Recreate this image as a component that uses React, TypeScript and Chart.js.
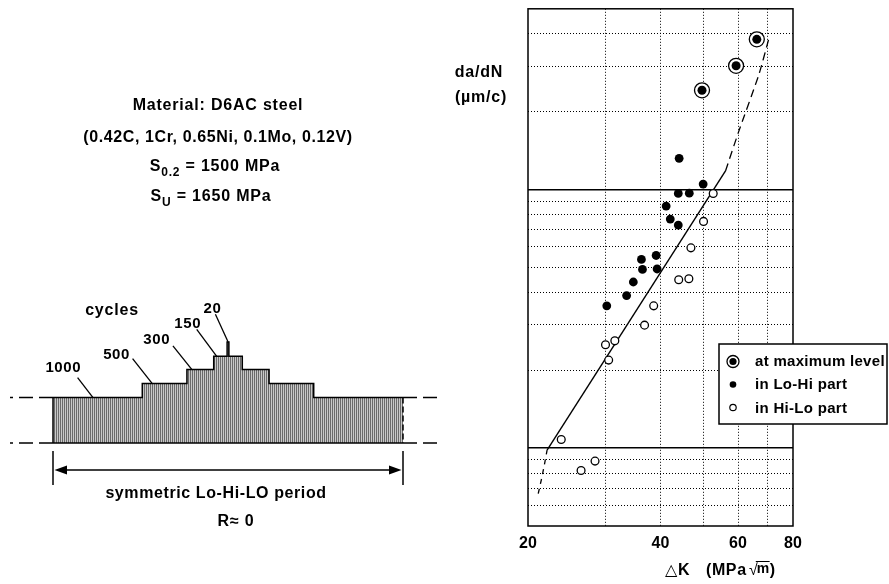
import React, { useEffect, useRef } from 'react';
import { Chart, registerables } from 'chart.js';

Chart.register(...registerables);

// ---------------- crack growth data (ΔK in MPa√m, da/dN in µm/cycle) ----------------
const maxLevelDK = [49.7, 59.4, 66.2];
const maxLevelRate = [0.242, 0.301, 0.381];

const loHiDK = [30.2, 33.5, 34.7, 36.2, 36.4, 39.1, 39.3, 41.2, 42.1, 43.9, 43.9, 44.1, 46.5, 50.0];
const loHiRate = [0.0355, 0.0389, 0.0439, 0.0537, 0.0491, 0.0556, 0.0493, 0.0863, 0.0769, 0.0729, 0.0966, 0.132, 0.0968, 0.105];

const hiLoDK = [23.8, 26.4, 28.4, 30.0, 30.5, 31.5, 36.8, 38.6, 44.0, 46.4, 46.9, 50.1, 52.7];
const hiLoRate = [0.0108, 0.0082, 0.00891, 0.0251, 0.0219, 0.026, 0.0299, 0.0355, 0.0448, 0.0452, 0.0595, 0.0753, 0.0966];

const fitDK = [22.1, 56.2];
const fitRate = [0.00982, 0.118];
const lowerDashDK = [21.1, 21.5, 21.8, 22.1];
const lowerDashRate = [0.00667, 0.00769, 0.00866, 0.00982];
const upperDashDK = [56.2, 60.1, 66.9, 70.7];
const upperDashRate = [0.118, 0.166, 0.278, 0.39];

// axes
const xMin = 20;
const xMax = 80;
const xGridValues = [20, 30, 40, 50, 60, 70, 80];
const xTickLabels = [20, 40, 60, 80];
const yMin = 0.005;
const yMax = 0.5;
const yGridValues = [0.005, 0.006, 0.007, 0.008, 0.009, 0.01, 0.02, 0.03, 0.04, 0.05, 0.06, 0.07, 0.08, 0.09, 0.1, 0.2, 0.3, 0.4, 0.5];
const yMajorValues = [0.01, 0.1];

const legendLabels = ['at maximum level', 'in Lo-Hi part', 'in Hi-Lo part'];

// ---------------- load spectrum (Lo-Hi-Lo block) ----------------
const blockCycles = [1000, 500, 300, 150, 20, 150, 300, 500, 1000];
const blockLevels = [4.54, 5.94, 7.34, 8.67, 10.1, 8.67, 7.34, 5.94, 4.54];
const cycleLabels = ['1000', '500', '300', '150', '20'];

const materialLines = ['Material: D6AC steel', '(0.42C, 1Cr, 0.65Ni, 0.1Mo, 0.12V)'];

const FONT = "'Liberation Sans', Arial, 'DejaVu Sans', sans-serif";

type Run = { t: string; size: number; dy?: number; weight?: string; font?: string };

function setFont(ctx: CanvasRenderingContext2D, size: number, weight = 'bold', spacing = 0.8, family = FONT) {
  ctx.font = `${weight} ${size}px ${family}`;
  (ctx as any).letterSpacing = `${spacing}px`;
}

function drawRuns(ctx: CanvasRenderingContext2D, runs: Run[], cx: number, y: number, spacing = 0.8) {
  let total = 0;
  const widths = runs.map((r) => {
    setFont(ctx, r.size, r.weight || 'bold', spacing, r.font || FONT);
    const w = ctx.measureText(r.t).width;
    total += w;
    return w;
  });
  let x = cx - total / 2;
  runs.forEach((r, i) => {
    setFont(ctx, r.size, r.weight || 'bold', spacing, r.font || FONT);
    ctx.fillText(r.t, x, y + (r.dy || 0));
    x += widths[i];
  });
}

function text(ctx: CanvasRenderingContext2D, s: string, x: number, y: number, size = 16, align: CanvasTextAlign = 'center', spacing = 0.8) {
  setFont(ctx, size, 'bold', spacing);
  ctx.textAlign = align;
  ctx.fillText(s, x, y);
}

function seg(ctx: CanvasRenderingContext2D, x1: number, y1: number, x2: number, y2: number) {
  ctx.beginPath();
  ctx.moveTo(x1, y1);
  ctx.lineTo(x2, y2);
  ctx.stroke();
}

const near = (a: number, b: number) => Math.abs(a - b) <= Math.abs(b) * 1e-6;
const isMajorY = (v: number) => yMajorValues.some((m) => near(v, m));

export default function App() {
  const leftRef = useRef<HTMLCanvasElement>(null);
  const rightRef = useRef<HTMLCanvasElement>(null);

  useEffect(() => {
    // ---------- left: load spectrum ----------
    const pat = document.createElement('canvas');
    pat.width = 2;
    pat.height = 2;
    const pctx = pat.getContext('2d')!;
    pctx.fillStyle = '#c8c8c8';
    pctx.fillRect(0, 0, 2, 2);
    pctx.fillStyle = '#6a6a6a';
    pctx.fillRect(0, 0, 1, 2);
    const hatch = leftRef.current!.getContext('2d')!.createPattern(pat, 'repeat');

    let acc = 0;
    const starts: number[] = [];
    const stepPts = blockCycles.map((c, i) => {
      starts.push(acc);
      const p = { x: acc, y: blockLevels[i] };
      acc += c;
      return p;
    });
    const totalCycles = acc;
    stepPts.push({ x: totalCycles, y: blockLevels[blockLevels.length - 1] });

    const endDx = [40, 10, 5, 3, 1];
    const leaderVec = [[-15.4, -20], [-19.7, -25], [-19, -23.7], [-20, -27], [-12.7, -27.7]];
    const labelOff = [[-29.7, -26], [-35.7, -25], [-35.2, -26], [-29, -28.6], [-15.7, -29.5]];

    const leftPlugin = {
      id: 'spectrumDecor',
      afterDraw(chart: any) {
        const ctx: CanvasRenderingContext2D = chart.ctx;
        const xs = chart.scales.x;
        const ys = chart.scales.y;
        const xL = xs.getPixelForValue(0);
        const xR = xs.getPixelForValue(totalCycles);
        const yB = ys.getPixelForValue(0);
        const y0 = ys.getPixelForValue(blockLevels[0]);
        ctx.save();
        ctx.strokeStyle = '#000';
        ctx.fillStyle = '#000';
        ctx.lineWidth = 1.5;
        seg(ctx, xL, yB, xL, y0);
        seg(ctx, xL, yB, xR, yB);
        ctx.setLineDash([6, 3]);
        seg(ctx, xR, y0, xR, yB);
        ctx.setLineDash([14, 6]);
        seg(ctx, xL, y0, 10, y0);
        seg(ctx, xL, yB, 10, yB);
        seg(ctx, xR, y0, 437, y0);
        seg(ctx, xR, yB, 437, yB);
        ctx.setLineDash([]);

        // leaders and cycle labels
        ctx.lineWidth = 1.3;
        ctx.textBaseline = 'alphabetic';
        cycleLabels.forEach((lab, i) => {
          const ex = xs.getPixelForValue(starts[i]) + endDx[i];
          const ey = ys.getPixelForValue(blockLevels[i]);
          seg(ctx, ex, ey, ex + leaderVec[i][0], ey + leaderVec[i][1]);
          text(ctx, lab, ex + labelOff[i][0], ey + labelOff[i][1], 15, 'center', 0.6);
        });
        text(ctx, 'cycles', 112, 315, 16, 'center', 0.8);

        // period dimension
        const ay = 470;
        ctx.lineWidth = 1.5;
        seg(ctx, xL, 451, xL, 485);
        seg(ctx, xR, 451, xR, 485);
        seg(ctx, xL + 8, ay, xR - 8, ay);
        ctx.beginPath();
        ctx.moveTo(xL + 1.5, ay);
        ctx.lineTo(xL + 14, ay - 4.5);
        ctx.lineTo(xL + 14, ay + 4.5);
        ctx.closePath();
        ctx.fill();
        ctx.beginPath();
        ctx.moveTo(xR - 1.5, ay);
        ctx.lineTo(xR - 14, ay - 4.5);
        ctx.lineTo(xR - 14, ay + 4.5);
        ctx.closePath();
        ctx.fill();
        text(ctx, 'symmetric Lo-Hi-LO period', (xL + xR) / 2 - 12, 498, 16, 'center', 0.6);
        text(ctx, 'R\u2248 0', 236, 526, 16, 'center', 0.8);

        // material description
        text(ctx, materialLines[0], 218, 110, 16, 'center', 0.8);
        text(ctx, materialLines[1], 218, 141.5, 16, 'center', 0.6);
        ctx.textAlign = 'left';
        drawRuns(ctx, [{ t: 'S', size: 16 }, { t: '0.2', size: 12, dy: 4.5 }, { t: ' = 1500 MPa', size: 16 }], 215, 171);
        drawRuns(ctx, [{ t: 'S', size: 16 }, { t: 'U', size: 12, dy: 4.5 }, { t: ' = 1650 MPa', size: 16 }], 211, 201);
        ctx.restore();
      },
    };

    const left = new Chart(leftRef.current!, {
      type: 'line',
      data: {
        datasets: [
          {
            data: stepPts,
            stepped: true,
            fill: 'origin',
            backgroundColor: hatch as any,
            borderColor: '#000',
            borderWidth: 1.5,
            pointRadius: 0,
          },
        ],
      },
      options: {
        responsive: false,
        animation: false,
        events: [],
        layout: { padding: { left: 53, right: 486, top: 323, bottom: 141 } },
        plugins: { legend: { display: false }, tooltip: { enabled: false } },
        scales: {
          x: { type: 'linear', min: 0, max: totalCycles, display: false },
          y: { type: 'linear', min: 0, max: 12, display: false },
        },
      },
      plugins: [leftPlugin],
    } as any);

    // ---------- right: da/dN vs ΔK ----------
    const pts = (xs: number[], ys: number[]) => xs.map((x, i) => ({ x, y: ys[i] }));

    const rightPlugin = {
      id: 'frameLegend',
      beforeDatasetsDraw(chart: any) {
        const { ctx, chartArea: a } = chart;
        ctx.save();
        ctx.strokeStyle = '#000';
        ctx.lineWidth = 1.5;
        ctx.strokeRect(a.left, a.top, a.right - a.left, a.bottom - a.top);
        ctx.restore();
      },
      afterDraw(chart: any) {
        const ctx: CanvasRenderingContext2D = chart.ctx;
        ctx.save();
        ctx.fillStyle = '#000';
        ctx.strokeStyle = '#000';
        ctx.textBaseline = 'alphabetic';
        // y title
        text(ctx, 'da/dN', 479, 77, 16, 'center', 0.8);
        text(ctx, '(\u00b5m/c)', 481, 102, 16, 'center', 0.8);
        // x title
        setFont(ctx, 16, 'bold', 0.6);
        ctx.textAlign = 'left';
        ctx.fillText('\u25b3K', 665, 575);
        ctx.fillText('(MPa', 706, 575);
        setFont(ctx, 16, 'normal', 0);
        ctx.fillText('\u221a', 749, 575);
        const sw = ctx.measureText('\u221a').width;
        setFont(ctx, 14, 'bold', 0.4);
        const mx = 749 + sw - 1;
        ctx.fillText('m', mx, 573);
        const mw = ctx.measureText('m').width;
        setFont(ctx, 16, 'bold', 0.4);
        ctx.fillText(')', mx + mw, 575);
        ctx.lineWidth = 1;
        seg(ctx, 749 + sw - 2, 561.5, mx + mw, 561.5);

        // legend
        const lx = 719, ly = 344, lw = 168, lh = 80;
        ctx.fillStyle = '#fff';
        ctx.fillRect(lx, ly, lw, lh);
        ctx.lineWidth = 1.5;
        ctx.strokeRect(lx, ly, lw, lh);
        const sx = 733;
        const rows = [361.5, 384.5, 407.5];
        // max-level symbol
        ctx.lineWidth = 1.3;
        ctx.beginPath();
        ctx.arc(sx, rows[0], 6, 0, Math.PI * 2);
        ctx.stroke();
        ctx.fillStyle = '#000';
        ctx.beginPath();
        ctx.arc(sx, rows[0], 3.6, 0, Math.PI * 2);
        ctx.fill();
        ctx.beginPath();
        ctx.arc(sx, rows[1], 3.3, 0, Math.PI * 2);
        ctx.fill();
        ctx.lineWidth = 1.2;
        ctx.beginPath();
        ctx.arc(sx, rows[2], 3.2, 0, Math.PI * 2);
        ctx.stroke();
        const bases = [365.5, 389, 413];
        legendLabels.forEach((l, i) => text(ctx, l, 755, bases[i], 15, 'left', 0.3));
        ctx.restore();
      },
    };

    const right = new Chart(rightRef.current!, {
      type: 'line',
      data: {
        datasets: [
          {
            label: legendLabels[0] + ' (core)',
            data: pts(maxLevelDK, maxLevelRate),
            showLine: false,
            pointRadius: 4.5,
            pointBackgroundColor: '#000',
            pointBorderWidth: 0,
          },
          {
            label: legendLabels[0],
            data: pts(maxLevelDK, maxLevelRate),
            showLine: false,
            pointRadius: 7.5,
            pointBackgroundColor: '#fff',
            pointBorderColor: '#000',
            pointBorderWidth: 1.3,
          },
          {
            label: legendLabels[1],
            data: pts(loHiDK, loHiRate),
            showLine: false,
            pointRadius: 4.4,
            pointBackgroundColor: '#000',
            pointBorderWidth: 0,
          },
          {
            label: legendLabels[2],
            data: pts(hiLoDK, hiLoRate),
            showLine: false,
            pointRadius: 3.9,
            pointBackgroundColor: '#fff',
            pointBorderColor: '#000',
            pointBorderWidth: 1.3,
          },
          {
            label: 'fit',
            data: pts(fitDK, fitRate),
            borderColor: '#000',
            borderWidth: 1.4,
            pointRadius: 0,
          },
          {
            label: 'lower',
            data: pts(lowerDashDK, lowerDashRate),
            borderColor: '#000',
            borderWidth: 1.3,
            borderDash: [5, 5],
            pointRadius: 0,
          },
          {
            label: 'upper',
            data: pts(upperDashDK, upperDashRate),
            borderColor: '#000',
            borderWidth: 1.3,
            borderDash: [8, 5],
            pointRadius: 0,
            tension: 0.2,
          },
        ],
      },
      options: {
        responsive: false,
        animation: false,
        events: [],
        clip: false,
        layout: { padding: { left: 528, right: 96, top: 6, bottom: 0 } },
        plugins: { legend: { display: false }, tooltip: { enabled: false } },
        scales: {
          x: {
            type: 'logarithmic',
            min: xMin,
            max: xMax,
            afterBuildTicks: (s: any) => {
              s.ticks = xGridValues.map((v) => ({ value: v }));
            },
            afterFit: (s: any) => {
              s.height = 58;
            },
            ticks: {
              autoSkip: false,
              maxRotation: 0,
              padding: 8,
              color: '#000',
              font: { family: FONT, size: 16, weight: 'bold' },
              callback: (v: any) => (xTickLabels.some((t) => near(Number(v), t)) ? String(v) : ''),
            },
            grid: {
              drawTicks: false,
              lineWidth: 1,
              color: (c: any) => {
                const v = c.tick ? c.tick.value : null;
                if (v == null || near(v, xMin) || near(v, xMax)) return 'rgba(0,0,0,0)';
                return '#000';
              },
            },
            border: { display: false, dash: (c: any) => (c.tick ? [1, 2] : []) },
          },
          y: {
            type: 'logarithmic',
            min: yMin,
            max: yMax,
            afterBuildTicks: (s: any) => {
              s.ticks = yGridValues.map((v) => ({ value: v }));
            },
            afterFit: (s: any) => {
              s.width = 0;
            },
            ticks: { display: false },
            grid: {
              drawTicks: false,
              lineWidth: (c: any) => (c.tick && isMajorY(c.tick.value) ? 1.4 : 1),
              color: (c: any) => {
                const v = c.tick ? c.tick.value : null;
                if (v == null || near(v, yMin) || near(v, yMax)) return 'rgba(0,0,0,0)';
                return '#000';
              },
            },
            border: {
              display: false,
              dash: (c: any) => (c.tick && !isMajorY(c.tick.value) ? [1, 2] : []),
            },
          },
        },
      },
      plugins: [rightPlugin],
    } as any);

    return () => {
      left.destroy();
      right.destroy();
    };
  }, []);

  return (
    <div style={{ position: 'fixed', left: 0, top: 0, width: 889, height: 584, background: '#fff' }}>
      <canvas ref={leftRef} width={889} height={584} style={{ position: 'absolute', left: 0, top: 0 }} />
      <canvas ref={rightRef} width={889} height={584} style={{ position: 'absolute', left: 0, top: 0 }} />
    </div>
  );
}
